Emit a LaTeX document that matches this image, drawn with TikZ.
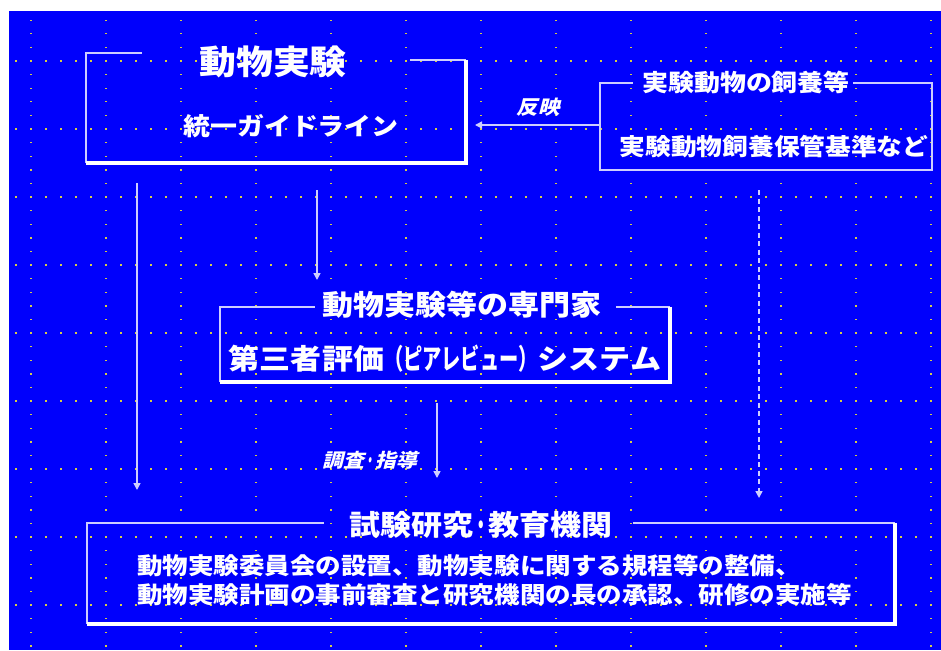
\documentclass[tikz,border=0pt]{standalone}
\usepackage{fontspec}
\usepackage{graphicx}
\usetikzlibrary{arrows.meta,calc}
\newfontfamily\jp{Noto Sans CJK JP}[FakeStretch=1.1]
\newfontfamily\jpit{Noto Sans CJK JP}[FakeStretch=1.1,FakeSlant=0.25]
\newcommand\jsize[1]{\fontsize{#1}{#1}\selectfont}
\newcommand\half[2][0.5]{\scalebox{#1}[1]{#2}}
\definecolor{bgblue}{RGB}{0,0,252}
\definecolor{rimc}{RGB}{205,205,255}
\definecolor{dotc}{RGB}{215,205,70}
\tikzset{
  frame/.style={rectangle, inner sep=0pt},
  rim/.style={draw=rimc, line width=1.6pt},
  shade/.style={draw=white, line width=4pt},
  ttl/.style={text=white, inner sep=0pt, font=\jp\bfseries},
  lbl/.style={text=white, inner sep=0pt, font=\jpit\bfseries},
  feedarrow/.style={draw=rimc, line width=1.5pt, -{Triangle[width=7pt,length=7pt]}},
}
\begin{document}
\begin{tikzpicture}[x=1pt,y=-1pt]
  \useasboundingbox (0,0) rectangle (941,650);
  % Background
  \fill[white] (0,0) rectangle (941,650);
  \fill[bgblue] (9,11) rectangle (941,650);

  % Grid dots
  \foreach \gx in {31,106,...,931}
    \foreach \j in {-3,...,43}
      \fill[dotc] (\gx-0.6,61+13.6*\j-0.6) rectangle ++(1.3,1.3);
  \foreach \gy in {61,129,...,605}
    \foreach \i in {-1,...,60}
      \fill[dotc] (31+15*\i-0.6,\gy-0.6) rectangle ++(1.3,1.3);

  % Boxes
  \node[frame, minimum width=380pt, minimum height=110pt] (guide) at (276,108) {};
  \node[frame, minimum width=332pt, minimum height=87pt] (feed) at (766,126.5) {};
  \node[frame, minimum width=450pt, minimum height=75pt] (peer) at (445,344.5) {};
  \node[frame, minimum width=808pt, minimum height=101pt] (inst) at (491,573.5) {};

  % Guideline box
  \draw[rim] ($(guide.north west)+(56,0)$) -- (guide.north west) -- (guide.south west);
  \draw[rim] ($(guide.north east)+(-56,7)$) -- ++(56,0);
  \draw[shade] ($(guide.north east)+(0,7)$) -- (guide.south east) -- (guide.south west);
  \node[ttl] (guidetitle) at (273,62) {\jsize{33.5}動物実験};
  \node[ttl] (guidetext) at (291,126) {\jsize{24.5}統一ガイドライン};

  % Breeding box
  \draw[rim] ($(feed.north west)+(33,0)$) -- (feed.north west) -- (feed.south west)
    -- (feed.south east) -- (feed.north east) -- ++(-79,0);
  \node[ttl] (feedtitle) at (746,83) {\jsize{23.6}実験動物の飼養等};
  \node[ttl] (feedtext) at (774,147) {\jsize{23.4}実験動物飼養保管基準など};

  % Peer review box
  \draw[rim] ($(peer.north west)+(95,0)$) -- (peer.north west) -- (peer.south west);
  \draw[rim] (peer.north east) -- ++(-54,0);
  \draw[shade] (peer.north east) -- (peer.south east) -- (peer.south west);
  \node[ttl] (peertitle) at (462,305) {\jsize{28.2}動物実験等の専門家};
  \node[ttl] (peertext) at (445,359) {\jsize{28.2}第三者評価\half[0.62]{（ピアレビュー）}システム};

  % Institution box
  \draw[rim] ($(inst.north west)+(237,0)$) -- (inst.north west) -- (inst.south west);
  \draw[rim] (inst.north east) -- ++(-262,0);
  \draw[shade] (inst.north east) -- (inst.south east) -- (inst.south west);
  \node[ttl] (insttitle) at (481,525) {\jsize{28.2}試験研究\half{・}教育機関};
  \node[ttl, anchor=west, align=left] (insttext) at (137,580)
    {\jsize{23.2}動物実験委員会の設置、動物実験に関する規程等の整備、\\[6pt]
     \jsize{23.2}動物実験計画の事前審査と研究機関の長の承認、研修の実施等};

  % Arrows
  \coordinate (reflect) at (475,125);
  \coordinate (g-out) at (137,183);
  \coordinate (i-in1) at (137,490);
  \coordinate (g-out2) at (317,190);
  \coordinate (p-in) at (317,280);
  \coordinate (p-out) at (437,403);
  \coordinate (i-in2) at (437,478);
  \coordinate (f-out) at (759,190);
  \coordinate (i-in3) at (759,498);
  \draw[feedarrow] (feed.west |- reflect) -- (reflect);
  \draw[feedarrow] (g-out) -- (i-in1);
  \draw[feedarrow] (g-out2) -- (p-in);
  \draw[feedarrow] (p-out) -- (i-in2);
  \draw[feedarrow, dash pattern=on 5pt off 3.5pt] (f-out) -- (i-in3);
  \node[lbl] (reflectlabel) at (538,107) {\jsize{19.5}反映};
  \node[lbl] (guidelabel) at (370,460) {\jsize{19}調査\half{・}指導};
\end{tikzpicture}
\end{document}
